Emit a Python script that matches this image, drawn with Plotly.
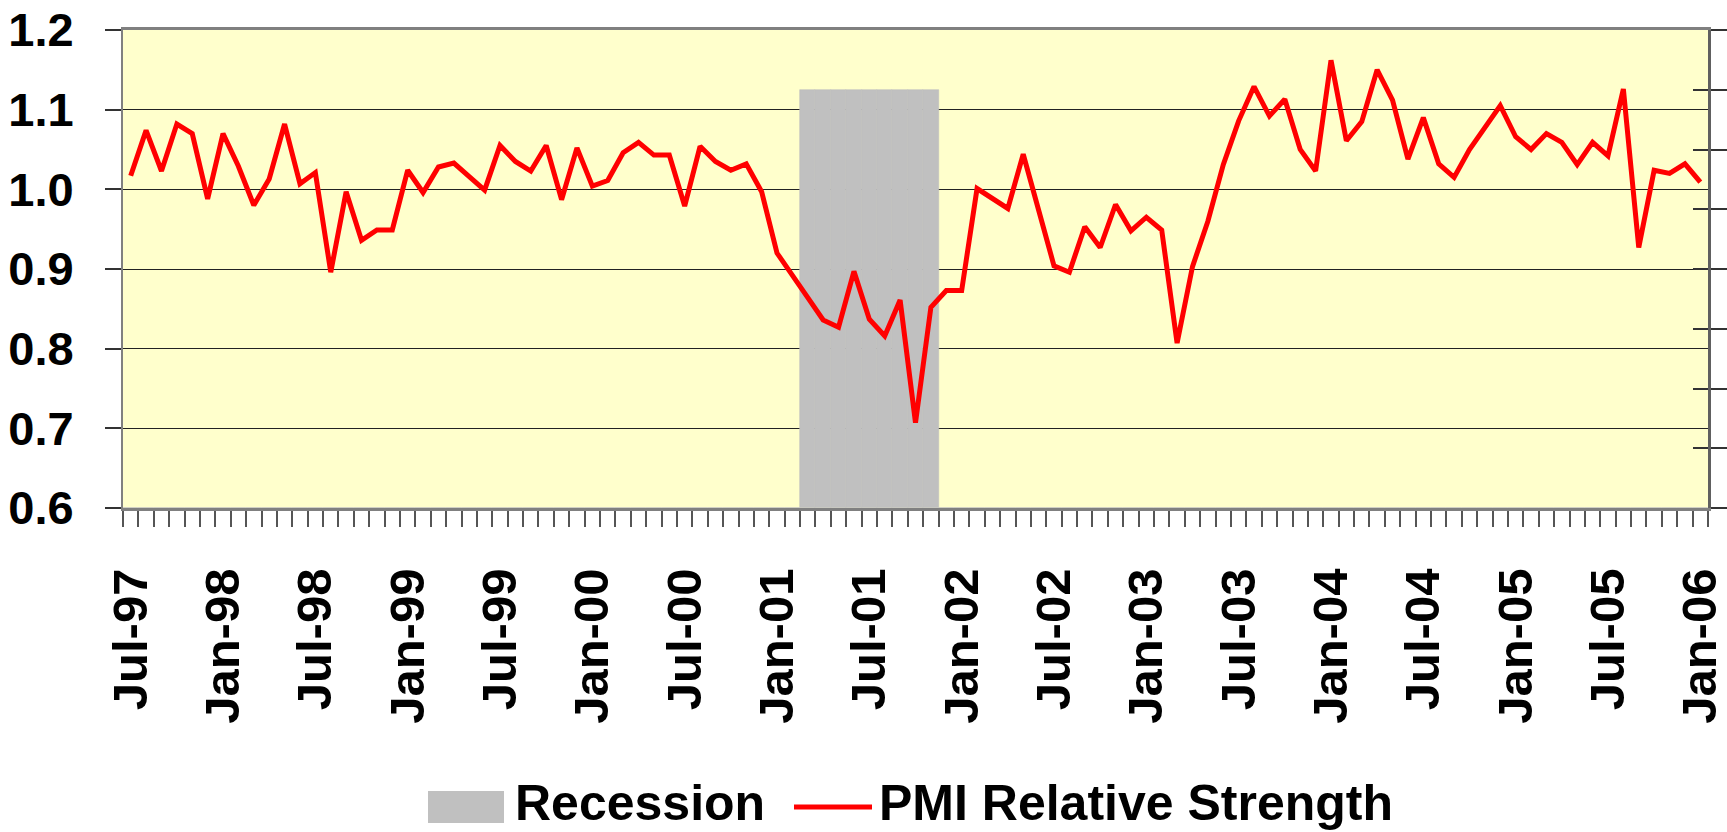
import plotly.graph_objects as go

# ---------------- data ----------------
months = [
    "Jul-97", "Aug-97", "Sep-97", "Oct-97", "Nov-97", "Dec-97",
    "Jan-98", "Feb-98", "Mar-98", "Apr-98", "May-98", "Jun-98",
    "Jul-98", "Aug-98", "Sep-98", "Oct-98", "Nov-98", "Dec-98",
    "Jan-99", "Feb-99", "Mar-99", "Apr-99", "May-99", "Jun-99",
    "Jul-99", "Aug-99", "Sep-99", "Oct-99", "Nov-99", "Dec-99",
    "Jan-00", "Feb-00", "Mar-00", "Apr-00", "May-00", "Jun-00",
    "Jul-00", "Aug-00", "Sep-00", "Oct-00", "Nov-00", "Dec-00",
    "Jan-01", "Feb-01", "Mar-01", "Apr-01", "May-01", "Jun-01",
    "Jul-01", "Aug-01", "Sep-01", "Oct-01", "Nov-01", "Dec-01",
    "Jan-02", "Feb-02", "Mar-02", "Apr-02", "May-02", "Jun-02",
    "Jul-02", "Aug-02", "Sep-02", "Oct-02", "Nov-02", "Dec-02",
    "Jan-03", "Feb-03", "Mar-03", "Apr-03", "May-03", "Jun-03",
    "Jul-03", "Aug-03", "Sep-03", "Oct-03", "Nov-03", "Dec-03",
    "Jan-04", "Feb-04", "Mar-04", "Apr-04", "May-04", "Jun-04",
    "Jul-04", "Aug-04", "Sep-04", "Oct-04", "Nov-04", "Dec-04",
    "Jan-05", "Feb-05", "Mar-05", "Apr-05", "May-05", "Jun-05",
    "Jul-05", "Aug-05", "Sep-05", "Oct-05", "Nov-05", "Dec-05",
    "Jan-06",
]

pmi_relative_strength = [
    1.017, 1.074, 1.023, 1.082, 1.070, 0.988,
    1.070, 1.029, 0.980, 1.013, 1.082, 1.007,
    1.021, 0.896, 0.997, 0.936, 0.949, 0.949,
    1.024, 0.996, 1.028, 1.033, 1.016, 0.999,
    1.055, 1.035, 1.023, 1.055, 0.987, 1.052,
    1.004, 1.011, 1.046, 1.059, 1.043, 1.043,
    0.979, 1.054, 1.035, 1.024, 1.032, 0.997,
    0.920, 0.891, 0.864, 0.836, 0.827, 0.897,
    0.837, 0.816, 0.861, 0.707, 0.852, 0.873,
    0.873, 1.001, 0.988, 0.976, 1.044, 0.975,
    0.904, 0.896, 0.953, 0.927, 0.981, 0.948,
    0.965, 0.949, 0.807, 0.903, 0.960, 1.031,
    1.086, 1.129, 1.092, 1.113, 1.050, 1.023,
    1.162, 1.061, 1.085, 1.150, 1.112, 1.038,
    1.090, 1.032, 1.015, 1.050, 1.078, 1.105,
    1.066, 1.050, 1.070, 1.059, 1.031, 1.059,
    1.042, 1.126, 0.927, 1.024, 1.020, 1.032,
    1.009,
]

recession_months = ["Mar-01", "Apr-01", "May-01", "Jun-01", "Jul-01",
                    "Aug-01", "Sep-01", "Oct-01", "Nov-01"]
recession_level = 7          # on the unlabeled secondary scale (0-8)
secondary_max = 8

y_ticks = [0.6, 0.7, 0.8, 0.9, 1.0, 1.1, 1.2]
label_months = ("Jan", "Jul")

# ---------------- derived ----------------
idx = list(range(len(months)))
recession = [recession_level if m in recession_months else 0 for m in months]
tickvals = [i for i, m in enumerate(months) if m.startswith(label_months)]
ticktext = [months[i] for i in tickvals]

W, H = 1727, 832
ML, MR, MT, MB = 123, 19, 30, 324
PW, PH = W - ML - MR, H - MT - MB

def xp(px):
    return (px - ML) / PW

def yp(py):
    return (H - MB - py) / PH

FONT = "Liberation Sans, Arial, sans-serif"

fig = go.Figure()
# Recession columns on the base (right, unlabeled) axis -> drawn underneath
fig.add_trace(go.Bar(
    x=idx, y=recession, yaxis="y", name="Recession",
    marker=dict(color="#C0C0C0", line=dict(color="#C0C0C0", width=0.6)),
    showlegend=False, hoverinfo="skip",
))
# PMI line on the overlaying left axis -> drawn on top
fig.add_trace(go.Scatter(
    x=idx, y=pmi_relative_strength, mode="lines", yaxis="y2",
    name="PMI Relative Strength",
    line=dict(color="#FF0000", width=5), showlegend=False,
))
# invisible trace to activate the inside-tick right axis
fig.add_trace(go.Scatter(x=[idx[0]], y=[0], yaxis="y3", mode="markers",
                         marker=dict(opacity=0), showlegend=False,
                         hoverinfo="skip"))

fig.update_layout(
    width=W, height=H, autosize=False,
    margin=dict(l=ML, r=MR, t=MT, b=MB, pad=0, autoexpand=False),
    paper_bgcolor="white", plot_bgcolor="#FFFFCC",
    bargap=0, showlegend=False,
    xaxis=dict(
        range=[-0.5, len(months) - 0.5], automargin=False,
        tickmode="array", tickvals=tickvals, ticktext=ticktext,
        tickangle=-90, ticks="",
        tickfont=dict(family=FONT, size=49, color="black", weight="bold"),
        ticklabelstandoff=38,
        showgrid=False, zeroline=False,
        showline=True, linecolor="#808080", linewidth=3, mirror=True,
        minor=dict(tick0=-0.5, dtick=1, ticks="outside", ticklen=16,
                   tickcolor="#555555", tickwidth=1.5, showgrid=False),
    ),
    yaxis=dict(
        side="right", range=[0, secondary_max], dtick=1, automargin=False,
        showticklabels=False, ticks="outside", ticklen=17,
        tickcolor="#333333", tickwidth=1.5,
        showgrid=False, zeroline=False,
        showline=True, linecolor="#606060", linewidth=3,
    ),
    yaxis2=dict(
        overlaying="y", side="left", automargin=False,
        range=[y_ticks[0], y_ticks[-1]],
        tickmode="array", tickvals=y_ticks,
        ticktext=[f"{v:.1f}" for v in y_ticks],
        ticks="outside", ticklen=16, tickcolor="#333333", tickwidth=1.5,
        tickfont=dict(family=FONT, size=47, color="black", weight="bold"),
        ticklabelstandoff=22,
        showgrid=True, gridcolor="#222222", gridwidth=1,
        zeroline=False,
        showline=True, linecolor="#808080", linewidth=2,
    ),
    yaxis3=dict(
        overlaying="y", side="right", range=[0, secondary_max], dtick=1,
        automargin=False,
        showticklabels=False, ticks="inside", ticklen=15,
        tickcolor="#333333", tickwidth=1.5,
        showgrid=False, zeroline=False, showline=False,
    ),
)

# ---------------- legend (drawn) ----------------
LEG_FONT = dict(family=FONT, size=50, color="black", weight="bold")
fig.add_shape(type="rect", xref="paper", yref="paper",
              x0=xp(428), x1=xp(504), y0=yp(823), y1=yp(791),
              fillcolor="#C0C0C0", line=dict(width=0))
fig.add_annotation(xref="paper", yref="paper", x=xp(514), y=yp(832),
                   xanchor="left", yanchor="bottom", showarrow=False,
                   borderpad=0, text="Recession", font=LEG_FONT)
fig.add_shape(type="line", xref="paper", yref="paper",
              x0=xp(794), x1=xp(872), y0=yp(807), y1=yp(807),
              line=dict(color="#FF0000", width=5))
fig.add_annotation(xref="paper", yref="paper", x=xp(878), y=yp(832),
                   xanchor="left", yanchor="bottom", showarrow=False,
                   borderpad=0, text="PMI Relative Strength", font=LEG_FONT)

fig.write_html("out.html", config={"displayModeBar": False},
               post_script="document.body.style.margin='0';")
